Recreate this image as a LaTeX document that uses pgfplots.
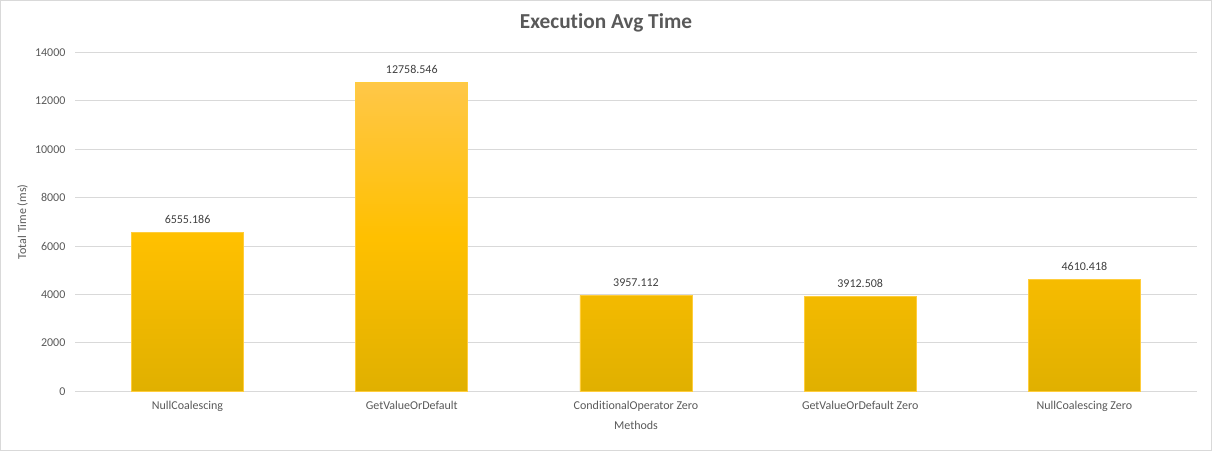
\documentclass[border=0pt]{standalone}
\usepackage{pgfplots}
\pgfplotsset{compat=1.18}
\usepackage{fontspec}
\setmainfont{Carlito}[Ligatures={NoCommon}]
\definecolor{txt}{HTML}{595959}
\definecolor{gridc}{HTML}{D9D9D9}
\definecolor{lbl}{HTML}{404040}
\begin{document}
\begin{tikzpicture}
\begin{axis}[
  at={(0,0)}, anchor=south west,
  scale only axis, width=841.5pt, height=254.25pt,
  ybar, bar width=0.5,
  xmin=-0.5, xmax=4.5, ymin=0, ymax=14000,
  ytick={0,2000,...,14000},
  xtick=data,
  xticklabels={NullCoalescing,GetValueOrDefault,ConditionalOperator Zero,GetValueOrDefault Zero,NullCoalescing Zero},
  /pgf/number format/assume math mode=true,
  scaled y ticks=false,
  yticklabel style={/pgf/number format/fixed,/pgf/number format/1000 sep={}},
  tick label style={font=\fontsize{9}{10}\selectfont, text=txt},
  ymajorgrids=true, xmajorgrids=false,
  major grid style={draw=gridc, line width=0.75pt},
  axis line style={draw=none},
  major tick length=0pt,
  xticklabel style={yshift=-4pt},
  yticklabel style={xshift=-4pt},
  xlabel={Methods}, ylabel={Total Time (ms)},
  label style={font=\fontsize{9}{10}\selectfont, text=txt},
  xlabel style={at={(axis description cs:0.5,0)}, anchor=center, yshift=-25.5pt},
  ylabel style={at={(axis description cs:0,0.5)}, anchor=center, yshift=39.75pt},
  title={Execution Avg Time},
  title style={font=\bfseries\fontsize{16}{18}\selectfont, text=txt, at={(axis description cs:0.5,1)}, anchor=center, yshift=16.5pt, xshift=-22.5pt},
  nodes near coords,
  every node near coord/.append style={font=\fontsize{9}{10}\selectfont, text=lbl, yshift=3pt, /pgf/number format/fixed, /pgf/number format/precision=3, /pgf/number format/fixed zerofill, /pgf/number format/1000 sep={}},
  clip=false,
]
\draw[draw=gridc, line width=0.75pt] (rel axis cs:0,0) -- (rel axis cs:1,0);
\addplot[draw={rgb,255:red,255;green,205;blue,60}, line width=0.5pt, top color={rgb,255:red,255;green,199;blue,72}, bottom color={rgb,255:red,224;green,176;blue,0}, middle color={rgb,255:red,255;green,192;blue,0}] coordinates {
  (0,6555.186) (1,12758.546) (2,3957.112) (3,3912.508) (4,4610.418)};
\end{axis}
\draw[draw=gridc, line width=0.75pt] (-56.25pt,-44.25pt) rectangle (852.75pt,293.25pt);
\end{tikzpicture}
\end{document}
